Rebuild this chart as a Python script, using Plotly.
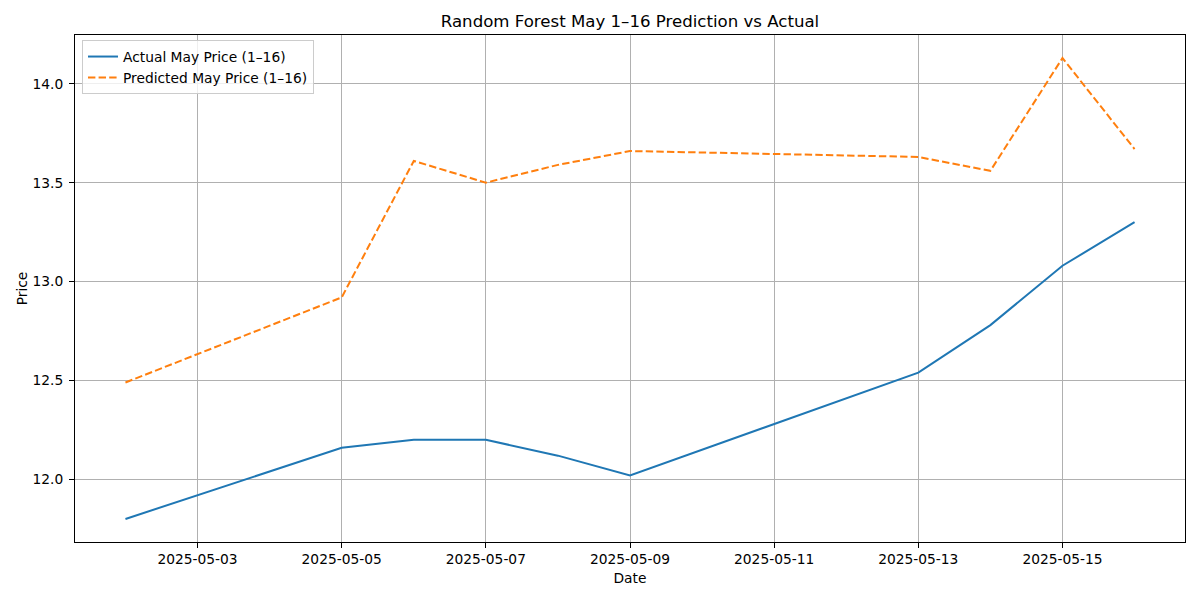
import plotly.graph_objects as go

dates = ["2025-05-02", "2025-05-05", "2025-05-06", "2025-05-07", "2025-05-08",
         "2025-05-09", "2025-05-13", "2025-05-14", "2025-05-15", "2025-05-16"]
actual = [11.80, 12.16, 12.20, 12.20, 12.12, 12.02, 12.54, 12.78, 13.08, 13.30]
predicted = [12.49, 12.92, 13.61, 13.50, 13.59, 13.66, 13.63, 13.56, 14.13, 13.67]
x_ticks = ["2025-05-03", "2025-05-05", "2025-05-07", "2025-05-09",
           "2025-05-11", "2025-05-13", "2025-05-15"]
y_ticks = [12.0, 12.5, 13.0, 13.5, 14.0]

FONT = "DejaVu Sans"
FS = 13.8

fig = go.Figure()
fig.add_trace(go.Scatter(x=dates, y=actual, mode="lines",
                         name="Actual May Price (1–16)",
                         line=dict(color="#1f77b4", width=2)))
fig.add_trace(go.Scatter(x=dates, y=predicted, mode="lines",
                         name="Predicted May Price (1–16)",
                         line=dict(color="#ff7f0e", width=2, dash="7.4px,3.2px")))

axis_common = dict(
    showline=True, linecolor="black", linewidth=1, mirror=True,
    ticks="outside", ticklen=5, tickcolor="black", tickwidth=1,
    showgrid=True, gridcolor="#b0b0b0", gridwidth=1,
    zeroline=False, tickfont=dict(family=FONT, size=FS, color="black"),
    automargin=False,
)

fig.update_layout(
    width=1200, height=600,
    margin=dict(l=75, r=15, t=35, b=58),
    paper_bgcolor="white", plot_bgcolor="white",
    font=dict(family=FONT, size=FS, color="black"),
    title=dict(text="Random Forest May 1–16 Prediction vs Actual",
               x=0.5, xref="paper", xanchor="center",
               y=1 - 21 / 600, yref="container", yanchor="middle",
               font=dict(family=FONT, size=16.6, color="black"),
               automargin=False),
    xaxis=dict(axis_common, type="date",
               range=["2025-05-01 07:12", "2025-05-16 16:48"],
               tickvals=x_ticks, tickformat="%Y-%m-%d",
               ticklabelstandoff=-1,
               title=dict(text="Date", standoff=7,
                          font=dict(family=FONT, size=FS))),
    yaxis=dict(axis_common, range=[11.6835, 14.2465],
               tickvals=y_ticks, tickformat=".1f",
               ticklabelstandoff=3,
               title=dict(text="Price", standoff=1,
                          font=dict(family=FONT, size=FS))),
    legend=dict(x=0.0063, y=0.99, xanchor="left", yanchor="top",
                bgcolor="rgba(255,255,255,0.8)", bordercolor="#cccccc",
                borderwidth=1, font=dict(family=FONT, size=FS),
                itemwidth=30, tracegroupgap=0),
    showlegend=True,
)

fig.write_html("out.html", config={"displayModeBar": False},
               post_script="document.body.style.margin='0';document.body.style.padding='0';")
